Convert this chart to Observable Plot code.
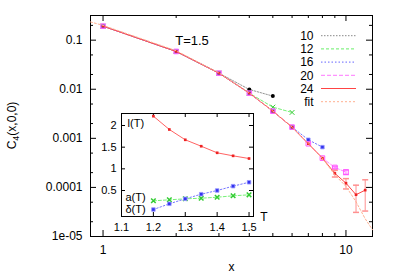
<!DOCTYPE html>
<html><head><meta charset="utf-8">
<script src="https://cdn.jsdelivr.net/npm/d3@7"></script>
<script src="https://cdn.jsdelivr.net/npm/@observablehq/plot@0.6"></script>
<style>
body{margin:0;background:#fff;}
#wrap{position:relative;width:395px;height:276px;font-family:"Liberation Sans",Arial,sans-serif;}
#wrap svg{position:absolute;left:0;top:0;}
</style></head><body><div id="wrap"></div>
<script>
// ---------- main plot data: C4(x,0,0) at T=1.5 for lattice sizes ----------
const sizeLabels = ["10","12","16","20","24","fit"];
const x10 = [1,2,3,4,5];
const c10 = [0.193,0.0589,0.0213,0.0099,0.00725];
const x12 = [1,2,3,4,5,6];
const c12 = [0.193,0.0589,0.0213,0.00834,0.00432,0.00337];
const x16 = [1,2,3,4,5,6,7,8];
const c16 = [0.193,0.0589,0.0213,0.00834,0.00358,0.00169,0.000935,0.000662];
const x20 = [1,2,3,4,5,6,7,8,9,10];
const c20 = [0.193,0.0589,0.0213,0.00834,0.00358,0.00169,0.000776,0.000395,0.000255,0.000205];
const e20 = [0,0,0,0,0,0,0,0,1.2e-5,2.2e-5];
const x24 = [1,2,3,4,5,6,7,8,9,10,11,12];
const c24 = [0.193,0.0589,0.0213,0.00834,0.00358,0.00169,0.000776,0.000395,0.000193,0.000122,7.1e-5,8.8e-5];
const e24 = [0,0,0,0,0,0,0,0,3e-5,2.9e-5,4e-5,5.5e-5];
const fitX = [0.888,1,2,3,4,5,6,7,8,9,10,11,12,12.86];
const fitY = [0.235,0.2,0.061,0.0215,0.0084,0.0036,0.0017,0.00078,0.00039,0.00018,0.000105,5.1e-5,2.3e-5,1.37e-5];
const xTicks = [1,10];
const xTickLabels = ["1","10"];
const xMinor = [2,3,4,5,6,7,8,9];
const yTicks = [1e-5,1e-4,1e-3,1e-2,1e-1];
const yTickLabels = ["1e-05","0.0001","0.001","0.01","0.1"];
const yMinor = [2e-5,5e-5,2e-4,5e-4,2e-3,5e-3,2e-2,5e-2,0.2];
const titleText = "T=1.5";
const xLabel = "x";

// ---------- inset data ----------
const T = [1.2,1.25,1.3,1.35,1.4,1.45,1.5];
const lT = [2.215,1.908,1.670,1.522,1.370,1.300,1.238];
const aT = [0.262,0.285,0.308,0.322,0.345,0.378,0.400];
const dT = [0.061,0.193,0.308,0.415,0.500,0.600,0.690];
const insetXTicks = [1.1,1.2,1.3,1.4,1.5];
const insetXLabels = ["1.1","1.2","1.3","1.4","1.5"];
const insetYTicks = [0.5,1,1.5,2];
const insetYLabels = ["0.5","1","1.5","2"];
const insetNames = ["l(T)","a(T)","\u03b4(T)"];
const insetNameT = [1.119,1.1125,1.1125];
const insetNameV = [2.04,0.345,0.062];

const pts = (xa, ya, ea) => xa.map((x,i)=>({x, y:ya[i], e: ea ? ea[i] : 0}));
const FONT = '"Liberation Sans", Arial, sans-serif';

const W=395, H=276, mL=90, mR=23, mT=15, mB=40;
const fw = W-mL-mR, fh = H-mT-mB;

function xTickMarks(vals, len, frameH, stroke="#000"){
  return [Plot.tickX(vals,{x:d=>d, insetTop:frameH-len, stroke}),
          Plot.tickX(vals,{x:d=>d, insetBottom:frameH-len, stroke})];
}
function yTickMarks(vals, len, frameW, stroke="#000"){
  return [Plot.tickY(vals,{y:d=>d, insetRight:frameW-len, stroke}),
          Plot.tickY(vals,{y:d=>d, insetLeft:frameW-len, stroke})];
}
const capSym = {draw(ctx, size){ const w=Math.sqrt(size/Math.PI); ctx.moveTo(-w,0); ctx.lineTo(w,0);} };

const d10=pts(x10,c10), d12=pts(x12,c12), d16=pts(x16,c16), d20=pts(x20,c20,e20), d24=pts(x24,c24,e24), dfit=pts(fitX,fitY);
const col = {c10:"#888888", c12:"#66ee66", c16:"#6666ff", c20:"#ff77ff", c24:"#ff4444", fit:"#ffb090", e24:"#ff9090"};

function errMarks(data, stroke){
  const d = data.filter(p=>p.e>0);
  return [
    Plot.ruleX(d,{x:"x", y1:p=>p.y-p.e, y2:p=>p.y+p.e, stroke}),
    Plot.dot(d,{x:"x", y:p=>p.y-p.e, symbol:capSym, r:3, stroke, fill:"none"}),
    Plot.dot(d,{x:"x", y:p=>p.y+p.e, symbol:capSym, r:3, stroke, fill:"none"})
  ];
}

const main = Plot.plot({
  width:W, height:H, marginLeft:mL, marginRight:mR, marginTop:mT, marginBottom:mB,
  style:{fontFamily:FONT, fontSize:"12px", color:"#000", background:"transparent"},
  x:{type:"log", domain:[0.888,12.86], axis:null},
  y:{type:"log", domain:[1e-5,0.318], axis:null},
  marks:[
    ...xTickMarks(xTicks, 6, fh), ...xTickMarks(xMinor, 3, fh),
    ...yTickMarks(yTicks, 6, fw), ...yTickMarks(yMinor, 3, fw),
    Plot.frame({stroke:"#000"}),
    Plot.axisX(xTicks,{tickSize:0, tickPadding:9, label:null, tickFormat:d=>xTickLabels[xTicks.indexOf(d)]}),
    Plot.axisY(yTicks,{tickSize:0, tickPadding:8, label:null, tickFormat:d=>yTickLabels[yTicks.indexOf(d)]}),
    Plot.line(d10,{x:"x",y:"y",stroke:col.c10,strokeWidth:0.9,strokeDasharray:"1.5,1.5"}),
    Plot.dot(d10,{x:"x",y:"y",r:2,fill:"#000",symbol:"circle"}),
    Plot.line(d12,{x:"x",y:"y",stroke:col.c12,strokeWidth:0.9,strokeDasharray:"3,2"}),
    Plot.dot(d12,{x:"x",y:"y",r:2.3,stroke:"#33cc33",symbol:"times",strokeWidth:1}),
    Plot.line(d16,{x:"x",y:"y",stroke:col.c16,strokeWidth:0.9,strokeDasharray:"1.5,2"}),
    Plot.dot(d16,{x:"x",y:"y",r:2,fill:"#3333ee",stroke:"#9999ff",strokeWidth:0.8,symbol:"square"}),
    Plot.line(d20,{x:"x",y:"y",stroke:col.c20,strokeWidth:0.9,strokeDasharray:"4,2"}),
    ...errMarks(d20, col.c20),
    Plot.dot(d20,{x:"x",y:"y",r:2.6,stroke:"#ff55ff",fill:"none",strokeWidth:1,symbol:"square"}),
    Plot.line(d24,{x:"x",y:"y",stroke:col.c24,strokeWidth:1}),
    ...errMarks(d24, col.e24),
    Plot.dot(d24,{x:"x",y:"y",r:1.5,fill:"#ee2222",symbol:"square"}),
    Plot.line(dfit,{x:"x",y:"y",stroke:col.fit,strokeWidth:1,strokeDasharray:"2,2"}),
    Plot.text([titleText],{text:d=>d, frameAnchor:"top-left", dx:101.5, dy:20, fontSize:13, textAnchor:"middle"}),
    Plot.text([xLabel],{text:d=>d, frameAnchor:"bottom", dy:34, fontSize:12})
  ]
});

// legend + y label overlay
const svg = d3.select(main);
const legend = [
  {label:sizeLabels[0], stroke:col.c10, dash:"1.5,1.5"},
  {label:sizeLabels[1], stroke:col.c12, dash:"3,2"},
  {label:sizeLabels[2], stroke:col.c16, dash:"1.5,2"},
  {label:sizeLabels[3], stroke:col.c20, dash:"4,2"},
  {label:sizeLabels[4], stroke:col.c24, dash:null},
  {label:sizeLabels[5], stroke:col.fit, dash:"2,2"}
];
const lg = svg.append("g").attr("font-family",FONT).attr("font-size",12);
legend.forEach((it,i)=>{
  const y = 35.7 + i*13.2;
  lg.append("text").attr("x",313.5).attr("y",y).attr("dy","0.35em").attr("text-anchor","end").attr("fill","#000").text(it.label);
  const ln = lg.append("line").attr("x1",321).attr("x2",356).attr("y1",y).attr("y2",y).attr("stroke",it.stroke).attr("stroke-width",1);
  if (it.dash) ln.attr("stroke-dasharray",it.dash);
});
const yl = svg.append("text").attr("transform","translate(16,125.5) rotate(-90)")
  .attr("text-anchor","middle").attr("font-family",FONT).attr("font-size",12).attr("fill","#000");
yl.append("tspan").text("C");
yl.append("tspan").attr("font-size",9).attr("dy",3).text("4");
yl.append("tspan").attr("dy",-3).text("(x,0,0)");

// ---------- inset ----------
const iW=200, iH=140, iL=41, iR=27, iT=13, iB=24;
const ifw=iW-iL-iR, ifh=iH-iT-iB;
const il = pts(T,lT), ia = pts(T,aT), id = pts(T,dT);
const inset = Plot.plot({
  width:iW, height:iH, marginLeft:iL, marginRight:iR, marginTop:iT, marginBottom:iB,
  style:{fontFamily:FONT, fontSize:"11px", color:"#000", background:"transparent", overflow:"visible"},
  x:{domain:[1.1,1.514], axis:null},
  y:{domain:[-0.1,2.277], axis:null},
  marks:[
    ...xTickMarks(insetXTicks, 4, ifh), ...yTickMarks(insetYTicks, 4, ifw),
    Plot.frame({stroke:"#000"}),
    Plot.axisX(insetXTicks,{tickSize:0, tickPadding:7, label:null, tickFormat:d=>insetXLabels[insetXTicks.indexOf(d)]}),
    Plot.axisY(insetYTicks,{tickSize:0, tickPadding:5, label:null, tickFormat:d=>insetYLabels[insetYTicks.indexOf(d)]}),
    Plot.line(il,{x:"x",y:"y",stroke:"#ff5050",strokeWidth:0.9}),
    Plot.dot(il,{x:"x",y:"y",r:1.5,fill:"#ee2222",symbol:"square"}),
    Plot.line(ia,{x:"x",y:"y",stroke:"#66ee66",strokeWidth:0.9,strokeDasharray:"3,2"}),
    Plot.dot(ia,{x:"x",y:"y",r:2.2,stroke:"#33cc33",symbol:"times"}),
    Plot.line(id,{x:"x",y:"y",stroke:"#6666ff",strokeWidth:0.9,strokeDasharray:"1.5,2"}),
    Plot.dot(id,{x:"x",y:"y",r:2,fill:"#3333ee",stroke:"#9999ff",strokeWidth:0.8,symbol:"square"}),
    Plot.text(insetNames,{x:(d,i)=>insetNameT[i], y:(d,i)=>insetNameV[i], text:d=>d, textAnchor:"start", fontSize:11}),
    Plot.text(["T"],{text:d=>d, frameAnchor:"bottom-right", dx:14, dy:4, fontSize:12})
  ]
});
inset.style.left = "80px";
inset.style.top = "100px";

const wrap = document.getElementById("wrap");
wrap.appendChild(main);
wrap.appendChild(inset);
</script>
</body></html>
